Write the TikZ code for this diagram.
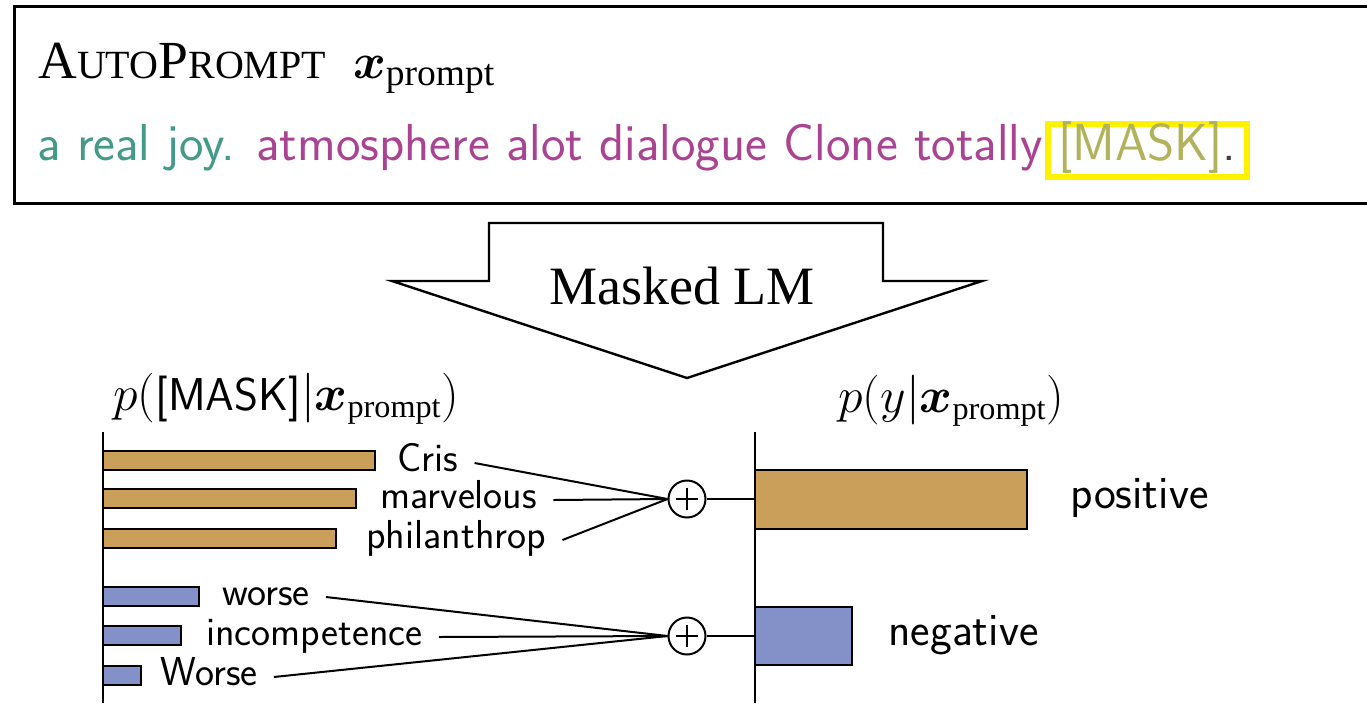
\documentclass[tikz,border=0pt]{standalone}
\usepackage{amsmath,bm}
\usepackage{fontspec}
\setmainfont{Liberation Serif}
\usetikzlibrary{positioning}

\definecolor{jointeal}{HTML}{449A88}
\definecolor{joinpurple}{HTML}{AA4492}
\definecolor{maskolive}{HTML}{B2B25C}
\definecolor{posgold}{HTML}{CA9F5A}
\definecolor{negblue}{HTML}{8491C8}
\newcommand{\scpart}[1]{{\fontsize{20}{22}\selectfont #1}}

\begin{document}
\begin{tikzpicture}[x=0.5pt,y=-0.5pt,
    word/.style={font=\sffamily\fontsize{20.2}{22}\selectfont, text height=8pt, text depth=0pt, inner xsep=8pt, inner ysep=0pt, anchor=base west},
    classname/.style={font=\sffamily\fontsize{23.2}{25}\selectfont, inner sep=0pt, anchor=base west},
    sumnode/.style={circle, draw, line width=1pt, minimum size=18.5pt, inner sep=0pt,
        path picture={
            \draw[line width=1pt] ([xshift=-5.5pt]path picture bounding box.center) -- ([xshift=5.5pt]path picture bounding box.center);
            \draw[line width=1pt] ([yshift=-5.5pt]path picture bounding box.center) -- ([yshift=5.5pt]path picture bounding box.center);}},
    posbar/.style={draw, line width=1pt, fill=posgold},
    negbar/.style={draw, line width=1pt, fill=negblue},
    wire/.style={line width=1pt}]
    \useasboundingbox (0,0) rectangle (1367,703);

    % prompt
    \draw[line width=1.5pt] (1367,6) -- (14,6) -- (14,203) -- (1367,203);
    \node[anchor=base west, inner sep=0pt, font=\fontsize{26.8}{28}\selectfont] (title) at (38,78)
        {A\scpart{UTO}P\scpart{ROMPT}\enspace$\bm{x}_{\mathrm{prompt}}$};
    \node[anchor=base west, inner sep=0pt, font=\sffamily\fontsize{26}{28}\selectfont] (prompt) at (37,160)
        {\textcolor{jointeal}{a real joy.} \textcolor{joinpurple}{atmosphere alot dialogue Clone totally}};
    \node[anchor=base west, draw=yellow, line width=3pt, inner xsep=5pt, inner ysep=0pt, text height=18pt, text depth=8.5pt,
        font=\sffamily\fontsize{26}{28}\selectfont] (mask) at ([xshift=1pt]prompt.base east)
        {\textcolor{maskolive}{[MASK]}\textcolor{darkgray}{.}};

    % masked LM arrow
    \draw[line width=1.2pt] (489,223) -- (883,223) -- (883,281) -- (982,281) -- (687,378) -- (392,281) -- (489,281) -- cycle;
    \node[anchor=base, inner sep=0pt, font=\fontsize{27}{29}\selectfont] (mlm) at (682,304) {Masked LM};

    % distributions
    \node[anchor=base west, inner sep=0pt, font=\fontsize{23}{25}\selectfont] (pmask) at (113,410)
        {$p(\text{\sffamily [MASK]}|\bm{x}_{\mathrm{prompt}})$};
    \node[anchor=base west, inner sep=0pt, font=\fontsize{23}{25}\selectfont] (plabel) at (838,412)
        {$p(y|\bm{x}_{\mathrm{prompt}})$};

    \coordinate (axL) at (103,432);
    \coordinate (axR) at (755,432);
    \draw[wire] (axL) -- (103,703);
    \draw[wire] (axR) -- (755,703);

    \draw[posbar] (103,451) rectangle (375,470);
    \draw[posbar] (103,489) rectangle (356,508);
    \draw[posbar] (103,529) rectangle (336,548);
    \draw[negbar] (103,587) rectangle (199,606);
    \draw[negbar] (103,626) rectangle (181,645);
    \draw[negbar] (103,666) rectangle (141,685);

    \node[word] (cris) at (381,471) {Cris};
    \node[word] (marvelous) at (364,508) {marvelous};
    \node[word] (philanthrop) at (350,548) {philanthrop};
    \node[word] (worse) at (206,605) {worse};
    \node[word] (incompetence) at (190,645) {incompetence};
    \node[word] (Worse) at (144,685) {Worse};

    \node[sumnode] (sumpos) at (687,499) {};
    \node[sumnode] (sumneg) at (687,636) {};

    \draw[wire] (cris.east) -- (sumpos.west);
    \draw[wire] (marvelous.east) -- (sumpos.west);
    \draw[wire] (philanthrop.east) -- (sumpos.west);
    \draw[wire] (worse.east) -- (sumneg.west);
    \draw[wire] (incompetence.east) -- (sumneg.west);
    \draw[wire] (Worse.east) -- (sumneg.west);
    \draw[wire] (sumpos.east) -- (sumpos.east -| axR);
    \draw[wire] (sumneg.east) -- (sumneg.east -| axR);

    \draw[posbar] (755,470) rectangle (1027,529);
    \draw[negbar] (755,607) rectangle (852,665);
    \node[classname] (positive) at (1070,508) {positive};
    \node[classname] (negative) at (888,645) {negative};
\end{tikzpicture}
\end{document}
